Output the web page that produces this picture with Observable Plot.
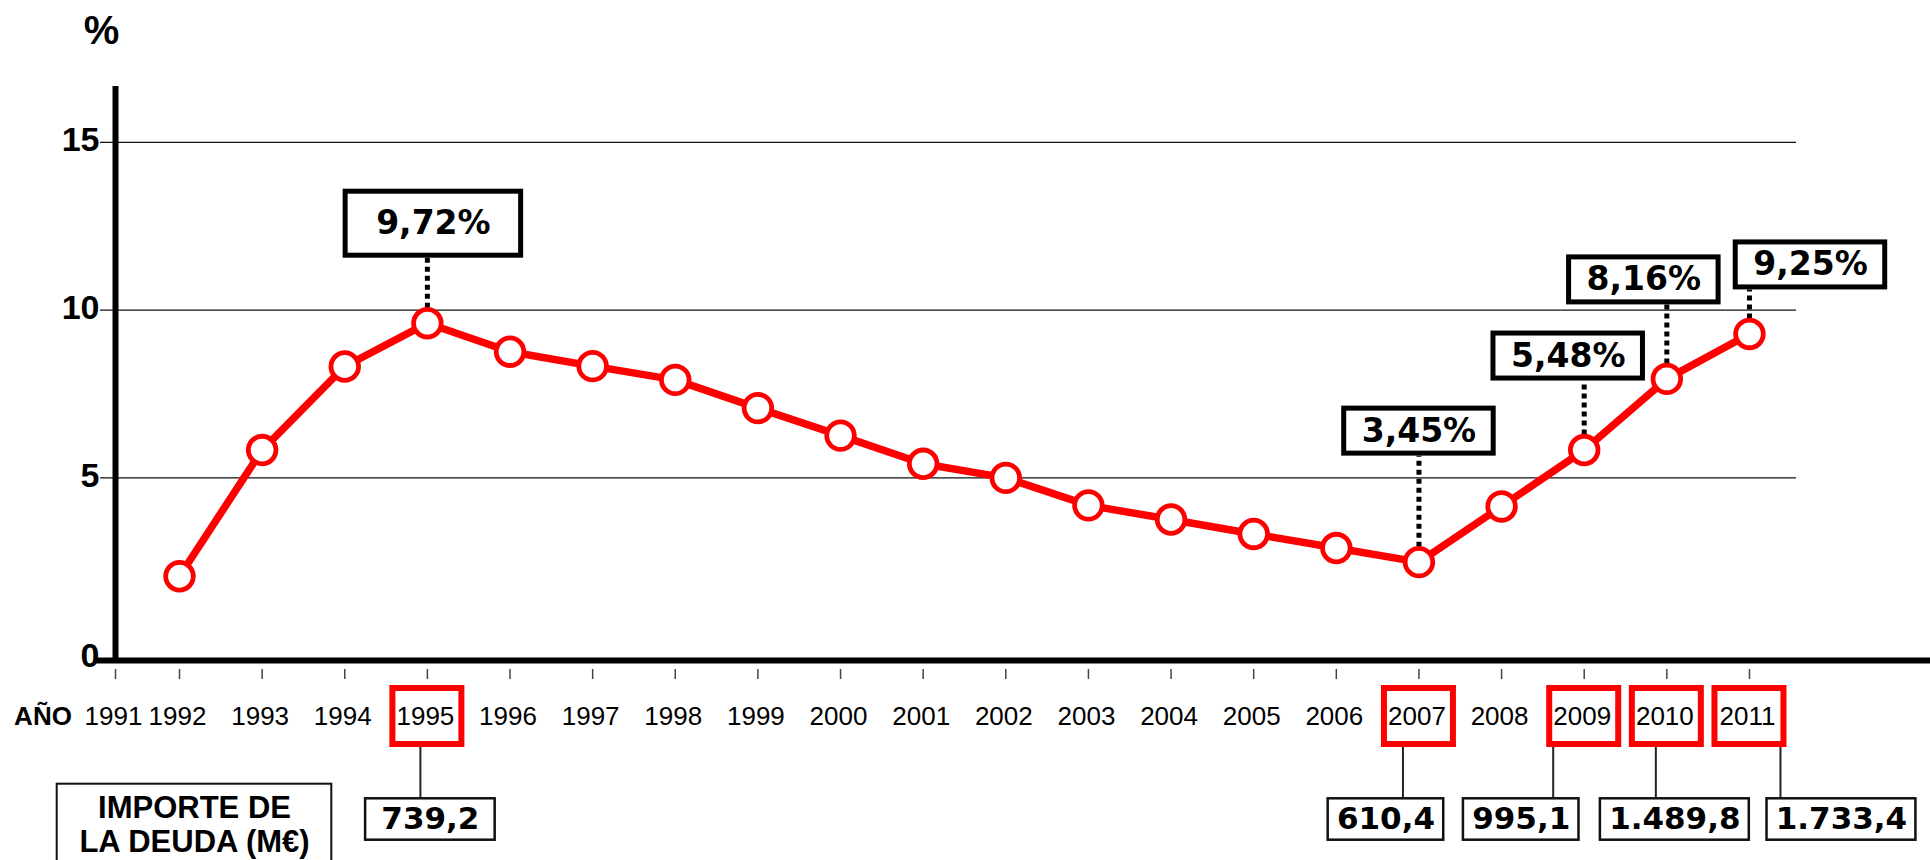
<!DOCTYPE html>
<html>
<head>
<meta charset="utf-8">
<script src="https://cdn.jsdelivr.net/npm/d3@7"></script>
<script src="https://cdn.jsdelivr.net/npm/@observablehq/plot@0.6"></script>
<style>
  html, body { margin: 0; padding: 0; background: #fff; }
  #chart svg { display: block; }
</style>
</head>
<body>
<div id="chart"></div>
<script>
// ---------------- data ----------------
const years = [1992, 1993, 1994, 1995, 1996, 1997, 1998, 1999, 2000, 2001,
               2002, 2003, 2004, 2005, 2006, 2007, 2008, 2009, 2010, 2011];
const rates = [2.07, 5.83, 8.32, 9.61, 8.76, 8.33, 7.92, 7.08, 6.26, 5.42,
               5.00, 4.18, 3.76, 3.33, 2.91, 2.49, 4.15, 5.83, 7.95, 9.29];
const tickYears = [1991, 1992, 1993, 1994, 1995, 1996, 1997, 1998, 1999, 2000, 2001,
                   2002, 2003, 2004, 2005, 2006, 2007, 2008, 2009, 2010, 2011];
const yTicks = [5, 10, 15];
const rateLabelYears = [1995, 2007, 2009, 2010, 2011];
const rateLabels = ["9,72%", "3,45%", "5,48%", "8,16%", "9,25%"];
const debtYears = [1995, 2007, 2009, 2010, 2011];
const debtLabels = ["739,2", "610,4", "995,1", "1.489,8", "1.733,4"];
const yearWord = "AÑO";
const unitLabel = "%";
const debtTitle = "IMPORTE DE\nLA DEUDA (M€)";

// ---------------- layout (pixels) ----------------
const W = 1930, H = 860;
const ML = 115, MR = 0, MT = 86, MB = 200;
const xPx1992 = 179, pxPerYear = 82.63;
const yPx0 = 645.2, pxPerPct = 33.56;
const xMin = 1992 - (xPx1992 - ML) / pxPerYear;
const xMax = 1992 + (W - MR - xPx1992) / pxPerYear;
const yMin = -((H - MB) - yPx0) / pxPerPct;
const yMax = (yPx0 - MT) / pxPerPct;
const X = px => 1992 + (px - xPx1992) / pxPerYear;
const dX = px => px / pxPerYear;
const Y = px => (yPx0 - px) / pxPerPct;
const yPxOf = v => yPx0 - v * pxPerPct;

const rateBoxLayout = [
  {dx: 6, lift: 65, padX: 33, h: 69},
  {dx: 0, lift: 106, padX: 20, h: 50},
  {dx: -16, lift: 69, padX: 20, h: 50},
  {dx: -23, lift: 74, padX: 20, h: 50},
  {dx: 61, lift: 44, padX: 20, h: 50}
];
const debtConnectorDx = [-7, -16, -31, -11, 31];
const debtBoxDx = [3, -33, -63, 8, 92];
const debtPad = [17, 10, 10, 10, 10];

const RED = "#ff0000";
const pctFont = "DejaVu Sans";
const mainFont = "'Liberation Sans', Arial, sans-serif";

const ctx = document.createElement("canvas").getContext("2d");
function textWidth(text, font) { ctx.font = font; return ctx.measureText(text).width; }

const series = years.map((year, i) => ({year, rate: rates[i]}));

const rateRows = rateLabelYears.map((yr, i) => {
  const v = rates[years.indexOf(yr)];
  const L = rateBoxLayout[i];
  const tw = textWidth(rateLabels[i], `bold 33px '${pctFont}'`);
  const cx = yr + dX(L.dx);
  const hw = dX((tw + 2 * L.padX - 5) / 2);
  const bottomPx = yPxOf(v) - L.lift;
  return {
    year: yr, rate: v, label: rateLabels[i], cx,
    x1: cx - hw, x2: cx + hw,
    y1: Y(bottomPx - 2.5), y2: Y(bottomPx - L.h + 2.5),
    ty: Y(bottomPx - L.h / 2),
    d1: Y(yPxOf(v) - 15), d2: Y(bottomPx)
  };
});

const debtRows = debtYears.map((yr, i) => {
  const tw = textWidth(debtLabels[i], `bold 31px '${pctFont}'`);
  const cx = yr + dX(debtBoxDx[i]);
  const hw = dX((tw + 2 * debtPad[i] - 2.5) / 2);
  return {
    year: yr, label: debtLabels[i], cx,
    cxLine: yr + dX(debtConnectorDx[i]),
    x1: cx - hw, x2: cx + hw
  };
});

const chart = Plot.plot({
  width: W, height: H,
  marginLeft: ML, marginRight: MR, marginTop: MT, marginBottom: MB,
  style: {fontFamily: mainFont, background: "#fff", color: "#000"},
  x: {domain: [xMin, xMax], axis: null},
  y: {domain: [yMin, yMax], axis: null},
  marks: [
    // gridlines (with left ticks)
    Plot.ruleY(yTicks, {x1: X(100), x2: X(1796), stroke: "#111", strokeWidth: 1.3}),
    // y axis line
    Plot.ruleX([xMin], {y1: yMin, y2: yMax, stroke: "#000", strokeWidth: 6}),
    // x axis line
    Plot.ruleY([yMin], {x1: X(96), x2: xMax, stroke: "#000", strokeWidth: 6}),
    // x ticks
    Plot.ruleX(tickYears, {x: d => Math.max(d, xMin), y1: Y(669), y2: Y(679), stroke: "#444", strokeWidth: 1.5}),
    // y tick labels
    Plot.text(yTicks, {x: xMin, y: d => d, text: d => String(d), dx: -16, dy: -2,
      textAnchor: "end", lineAnchor: "middle", fontSize: 34, fontWeight: "bold"}),
    Plot.text([0], {x: xMin, y: d => d, text: d => String(d), dx: -16, dy: 10,
      textAnchor: "end", lineAnchor: "middle", fontSize: 34, fontWeight: "bold"}),
    // unit label
    Plot.text([unitLabel], {frameAnchor: "top-left", text: d => d, dx: -14, dy: -43,
      textAnchor: "middle", lineAnchor: "bottom", fontSize: 40, fontWeight: "bold"}),
    // year labels
    Plot.text(tickYears, {x: d => Math.max(d, xMin), y: Y(716), text: d => String(d),
      dx: -2, lineAnchor: "middle", fontSize: 26}),
    Plot.text([yearWord], {x: xMin, y: Y(716), text: d => d, dx: -43.6, textAnchor: "end",
      lineAnchor: "middle", fontSize: 26, fontWeight: "bold"}),
    // red boxes around highlighted years
    Plot.rect(debtYears, {x1: d => d - dX(34.5), x2: d => d + dX(34.5), y1: Y(688), y2: Y(744),
      fill: "none", stroke: RED, strokeWidth: 6}),
    // connectors to debt boxes
    Plot.ruleX(debtRows, {x: "cxLine", y1: Y(747), y2: Y(798), stroke: "#222", strokeWidth: 2}),
    // debt boxes
    Plot.rect(debtRows, {x1: "x1", x2: "x2", y1: Y(798.3), y2: Y(839.7),
      fill: "#fff", stroke: "#111", strokeWidth: 2.5}),
    Plot.text(debtRows, {x: "cx", y: Y(819), text: "label", lineAnchor: "middle",
      fontFamily: pctFont, fontSize: 31, fontWeight: "bold"}),
    // "IMPORTE DE LA DEUDA" box
    Plot.rect([debtTitle], {x1: X(56.7), x2: X(331.3), y1: Y(783.7), y2: Y(890),
      fill: "none", stroke: "#111", strokeWidth: 2}),
    Plot.text([debtTitle], {x: X(194), y: Y(793), text: d => d, lineAnchor: "top",
      lineHeight: 1.1, fontSize: 31, fontWeight: "bold"}),
    // main line
    Plot.line(series, {x: "year", y: "rate", stroke: RED, strokeWidth: 7.5, strokeLinejoin: "round"}),
    // dotted connectors
    Plot.ruleX(rateRows, {x: "year", y1: "d1", y2: "d2", stroke: "#000", strokeWidth: 5,
      strokeDasharray: "5,4"}),
    // points
    Plot.dot(series, {x: "year", y: "rate", r: 13.8, fill: "#fff", stroke: RED, strokeWidth: 4.8}),
    // rate boxes
    Plot.rect(rateRows, {x1: "x1", x2: "x2", y1: "y1", y2: "y2", fill: "#fff", stroke: "#000", strokeWidth: 5}),
    Plot.text(rateRows, {x: "cx", y: "ty", text: "label", lineAnchor: "middle",
      fontFamily: pctFont, fontSize: 33, fontWeight: "bold"})
  ]
});
document.getElementById("chart").appendChild(chart);
</script>
</body>
</html>
